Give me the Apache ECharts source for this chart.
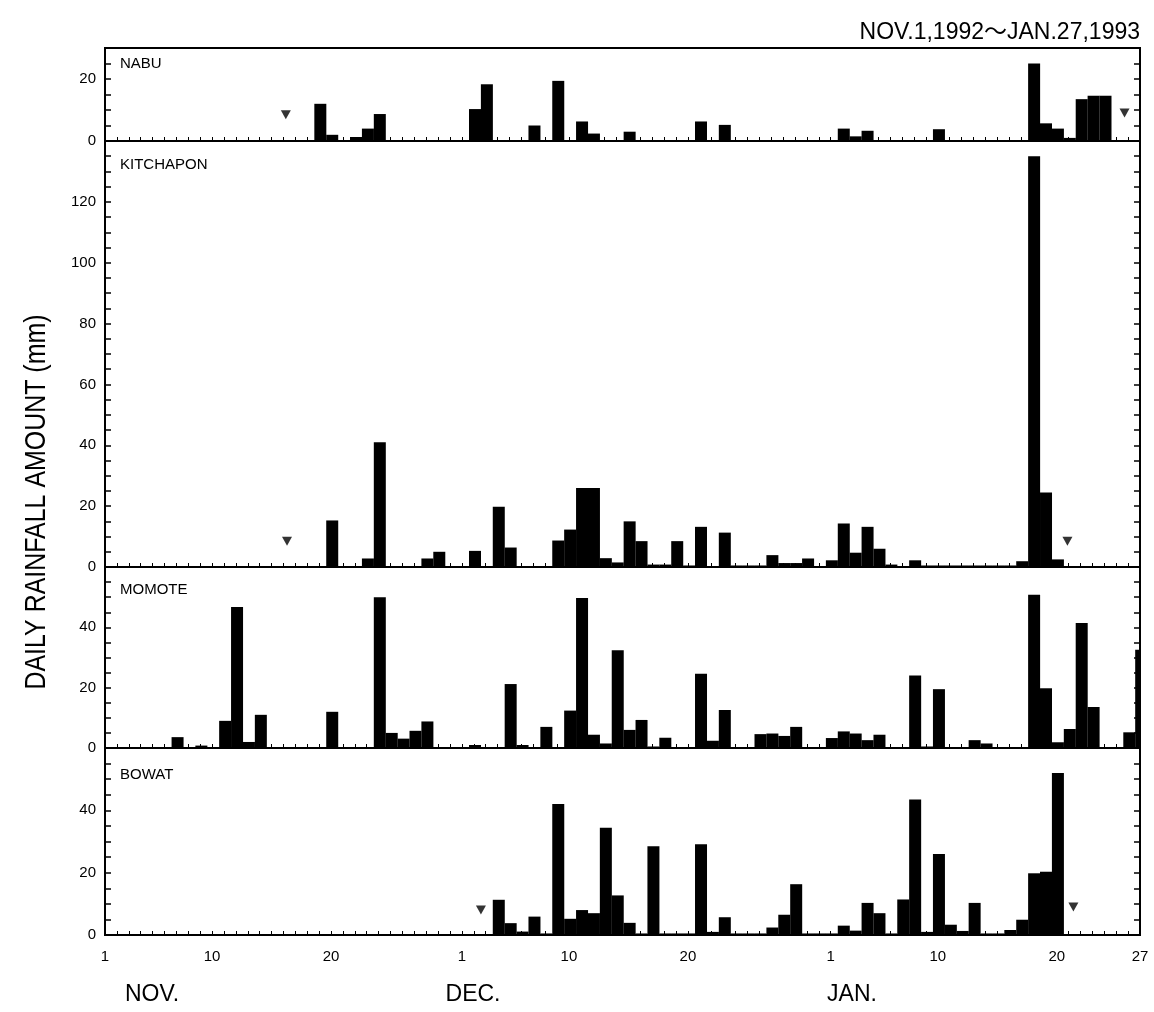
<!DOCTYPE html>
<html>
<head>
<meta charset="utf-8">
<title>Daily rainfall, Nov 1992 - Jan 1993</title>
<script src="https://cdn.jsdelivr.net/npm/echarts/dist/echarts.min.js"></script>
<style>
  html, body { margin: 0; padding: 0; background: #fff; }
  #chart { width: 1154px; height: 1012px; }
</style>
</head>
<body>
<div id="chart"></div>
<script>
// day index 0 = Nov 1 1992 ... 87 = Jan 27 1993
var tickDays = [0, 9, 19, 30, 39, 49, 61, 70, 80, 87];
var tickText = ['1', '10', '20', '1', '10', '20', '1', '10', '20', '27'];
var months = ['NOV.', 'DEC.', 'JAN.'];

var stations = ['NABU', 'KITCHAPON', 'MOMOTE', 'BOWAT'];
var yMax = [30, 140, 60, 60];

// daily rainfall (mm), one value per day
var nabu = [
  0, 0, 0, 0, 0, 0, 0, 0, 0, 0,
  0, 0, 0, 0, 0, 0, 0, 0, 12, 2,
  0, 1.3, 4, 8.7, 0, 0, 0, 0, 0, 0,
  0, 10.3, 18.3, 0, 0, 0, 5, 0, 19.4, 0,
  6.3, 2.4, 0, 0, 3, 0, 0, 0, 0, 0,
  6.3, 0, 5.2, 0, 0, 0, 0, 0, 0, 0,
  0, 0, 4, 1.5, 3.3, 0, 0, 0, 0, 0,
  3.8, 0, 0, 0, 0, 0, 0, 0, 25, 5.7,
  4, 1, 13.5, 14.6, 14.6, 0, 0, 0
];
var kitchapon = [
  0, 0, 0, 0, 0, 0, 0, 0, 0, 0,
  0, 0, 0, 0, 0, 0, 0, 0, 0, 15.3,
  0, 0, 2.8, 41, 0, 0, 0, 2.8, 5, 0,
  0, 5.3, 0, 19.8, 6.4, 0, 0, 0, 8.7, 12.3,
  26, 26, 2.9, 1.5, 15, 8.5, 0.8, 0.8, 8.5, 0.5,
  13.2, 0, 11.3, 0.5, 0.5, 0.5, 3.9, 1.3, 1.3, 2.8,
  0, 2.2, 14.3, 4.7, 13.2, 6, 0.8, 0, 2.2, 0.5,
  0.5, 0.5, 0.5, 0.5, 0.5, 0.5, 0.5, 1.9, 135, 24.5,
  2.5, 0, 0, 0, 0, 0, 0, 0
];
var momote = [
  0, 0, 0, 0, 0, 0, 3.6, 0, 0.8, 0,
  9, 46.7, 2, 11, 0, 0, 0, 0, 0, 12,
  0, 0, 0, 50, 5, 3.1, 5.7, 8.8, 0, 0,
  0, 1, 0, 0, 21.2, 1, 0, 7, 0, 12.4,
  49.7, 4.4, 1.5, 32.4, 6, 9.3, 0.5, 3.4, 0, 0,
  24.6, 2.4, 12.6, 0, 0, 4.6, 4.8, 4, 7, 0,
  0, 3.3, 5.5, 4.8, 2.6, 4.4, 0, 0, 24, 0.5,
  19.5, 0, 0, 2.6, 1.5, 0, 0, 0, 50.8, 19.8,
  1.9, 6.3, 41.4, 13.6, 0, 0, 5.2, 32.6
];
var bowat = [
  0, 0, 0, 0, 0, 0, 0, 0, 0, 0,
  0, 0, 0, 0, 0, 0, 0, 0, 0, 0,
  0, 0, 0, 0, 0, 0, 0, 0, 0, 0,
  0, 0, 0, 11.3, 3.8, 1.1, 5.9, 0.5, 42, 5.2,
  8, 7, 34.4, 12.7, 3.9, 0.5, 28.5, 0.5, 0.5, 0.5,
  29.1, 1, 5.7, 0.5, 0.5, 0.5, 2.4, 6.5, 16.3, 0.5,
  0.5, 0.5, 3, 1.4, 10.3, 7, 0.5, 11.4, 43.5, 1,
  26, 3.3, 1.3, 10.3, 0.5, 0.5, 1.6, 4.9, 19.8, 20.3,
  52, 0, 0, 0, 0, 0, 0, 0
];

// start / end markers of each record (day, mm)
var nabuMarks = [[15.2, 8.5], [85.7, 9]];
var kitchaponMarks = [[15.3, 8.5], [80.9, 8.5]];
var momoteMarks = [];
var bowatMarks = [[31.6, 8], [81.4, 9]];

var rain = [nabu, kitchapon, momote, bowat];
var marks = [nabuMarks, kitchaponMarks, momoteMarks, bowatMarks];

// bars in the original sit a touch right of the day tick
var BAR_SHIFT = 0.1;

// panel layout (px)
var panels = [
  { top: 48, height: 93, labelY: 64 },
  { top: 141, height: 426, labelY: 165 },
  { top: 567, height: 181, labelY: 590 },
  { top: 748, height: 187, labelY: 775 }
];

var FONT = 'Liberation Sans, Arial, sans-serif';

var chart = echarts.init(document.getElementById('chart'));

var grid = [], xAxis = [], yAxis = [], series = [], graphic = [];

panels.forEach(function (p, i) {
  grid.push({
    left: 105, right: 14, top: p.top, height: p.height,
    show: true, borderColor: '#000', borderWidth: 2
  });
  xAxis.push({
    gridIndex: i, type: 'value', min: 0, max: 87, interval: 1,
    axisLine: { show: false },
    splitLine: { show: false },
    axisTick: { show: true, inside: true, length: 4, lineStyle: { color: '#000', width: 1 } },
    axisLabel: {
      show: i === 3, color: '#000', fontSize: 15, fontFamily: FONT, margin: 14,
      formatter: function (v) {
        var k = tickDays.indexOf(v);
        return k >= 0 ? tickText[k] : '';
      }
    }
  });
  var yTick = { show: true, inside: true, length: 6, lineStyle: { color: '#000', width: 1.5 } };
  yAxis.push({
    gridIndex: i, type: 'value', min: 0, max: yMax[i], interval: 5,
    axisLine: { show: false },
    splitLine: { show: false },
    axisTick: yTick,
    axisLabel: {
      color: '#000', fontSize: 15, fontFamily: FONT, margin: 9,
      formatter: function (v) {
        return (v % 20 === 0 && v < yMax[i]) ? String(v) : '';
      }
    }
  });
  yAxis.push({
    gridIndex: i, type: 'value', position: 'right', min: 0, max: yMax[i], interval: 5,
    axisLine: { show: false },
    splitLine: { show: false },
    axisTick: yTick,
    axisLabel: { show: false }
  });
  series.push({
    type: 'bar', name: stations[i],
    xAxisIndex: i, yAxisIndex: 2 * i,
    data: rain[i].map(function (v, d) { return [d + BAR_SHIFT, v]; }),
    barWidth: 12,
    itemStyle: { color: '#000' },
    silent: true
  });
  series.push({
    type: 'scatter',
    xAxisIndex: i, yAxisIndex: 2 * i,
    data: marks[i],
    symbol: 'triangle', symbolRotate: 180, symbolSize: [10, 9],
    itemStyle: { color: '#000' },
    silent: true
  });
  graphic.push({
    type: 'text', left: 120, top: p.labelY - 8,
    style: { text: stations[i], fontSize: 15, fontFamily: FONT, fill: '#000' }
  });
});

// bars on a value axis are not clipped: mask the strip right of the frame
graphic.push({
  type: 'rect', x: 1141, y: 46, z: 100,
  shape: { width: 13, height: 892 },
  style: { fill: '#fff' }
});

graphic.push({
  type: 'text', x: 1140, y: 33,
  style: {
    text: 'NOV.1,1992〜JAN.27,1993', fontSize: 23, fontFamily: 'Liberation Sans, Noto Sans CJK JP, sans-serif',
    fill: '#000', textAlign: 'right', textVerticalAlign: 'middle'
  }
});
graphic.push({
  type: 'text', x: 37, y: 502, rotation: Math.PI / 2, scaleX: 0.86,
  style: {
    text: 'DAILY RAINFALL AMOUNT (mm)', fontSize: 29, fontFamily: FONT,
    fill: '#000', textAlign: 'center', textVerticalAlign: 'middle'
  }
});
[152, 473, 852].forEach(function (x, k) {
  graphic.push({
    type: 'text', x: x, y: 995,
    style: {
      text: months[k], fontSize: 23, fontFamily: FONT,
      fill: '#000', textAlign: 'center', textVerticalAlign: 'middle'
    }
  });
});

chart.setOption({
  backgroundColor: '#fff',
  animation: false,
  grid: grid,
  xAxis: xAxis,
  yAxis: yAxis,
  series: series,
  graphic: graphic
});
</script>
</body>
</html>
